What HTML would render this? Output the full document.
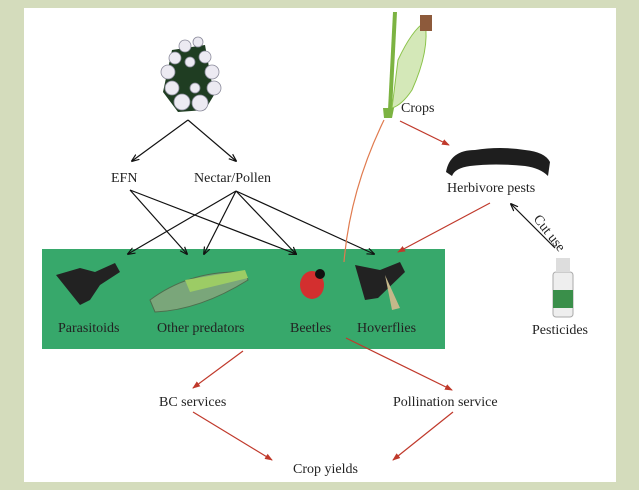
<!DOCTYPE html>
<html><head><meta charset="utf-8"><style>
html,body{margin:0;padding:0;background:#d4dcbc;}
svg{display:block}
text{font-family:"Liberation Serif",serif;font-size:14px;fill:#222}
</style></head><body>
<svg width="639" height="490" viewBox="0 0 639 490" xmlns="http://www.w3.org/2000/svg">
<defs>
<marker id="ab" markerWidth="8" markerHeight="8" refX="7" refY="4" orient="auto" markerUnits="userSpaceOnUse"><path d="M0,1 L8,4 L0,7" fill="none" stroke="#111" stroke-width="1.2"/></marker>
<marker id="ar" markerWidth="8" markerHeight="8" refX="7" refY="4" orient="auto" markerUnits="userSpaceOnUse"><path d="M0,1 L8,4 L0,7 z" fill="#c0392b"/></marker>
</defs>
<rect x="0" y="0" width="639" height="490" fill="#d4dcbc"/>
<rect x="24" y="8" width="592" height="474" fill="#fff"/>
<rect x="42" y="249" width="403" height="100" fill="#37a86b"/>

<!-- flower -->
<g>
<path d="M172,50 L205,45 L214,95 L205,110 L178,112 L163,92 Z" fill="#1f3d22"/>
<g fill="#eceaf2" stroke="#8a8a9a" stroke-width="0.8">
<circle cx="185" cy="46" r="6"/><circle cx="198" cy="42" r="5"/><circle cx="175" cy="58" r="6"/><circle cx="205" cy="57" r="6"/>
<circle cx="168" cy="72" r="7"/><circle cx="212" cy="72" r="7"/><circle cx="172" cy="88" r="7"/><circle cx="214" cy="88" r="7"/>
<circle cx="182" cy="102" r="8"/><circle cx="200" cy="103" r="8"/><circle cx="190" cy="62" r="5"/><circle cx="195" cy="88" r="5"/>
</g></g>
<!-- corn -->
<g>
<path d="M393,12 L397,12 L392,110 L388,110 Z" fill="#7cb342"/>
<path d="M398,60 Q412,30 425,22 Q430,50 412,90 Q402,105 392,108 Z" fill="#d4e8b8" stroke="#8bc34a"/>
<rect x="420" y="15" width="12" height="16" fill="#8d5a3b"/>
<path d="M383,108 L394,108 L392,118 L384,118 Z" fill="#7cb342"/>
</g>
<!-- caterpillar -->
<path d="M446,172 Q450,150 475,150 Q500,146 525,150 Q545,152 550,162 L548,176 Q540,168 525,166 Q495,163 470,166 Q455,168 452,176 Z" fill="#1e1e1e"/>
<!-- bottle -->
<rect x="553" y="272" width="20" height="45" rx="3" fill="#eee" stroke="#aaa"/>
<rect x="553" y="290" width="20" height="18" fill="#3a8f4a"/>
<path d="M556,258 L570,258 L570,272 L556,272 Z" fill="#ddd"/>
<!-- insects -->
<path d="M56,275 L80,268 L95,272 L115,263 L120,272 L100,285 L90,300 L80,305 Z" fill="#222"/>
<path d="M150,300 Q190,270 245,272 L248,280 Q200,310 155,312 Z" fill="#7aa67a" stroke="#4d6e4d"/>
<path d="M185,280 L245,270 L248,278 L190,292 Z" fill="#9ccc65"/>
<ellipse cx="312" cy="285" rx="12" ry="14" fill="#d32f2f"/>
<circle cx="320" cy="274" r="5" fill="#111"/>
<path d="M355,265 L380,270 L400,262 L405,272 L378,298 L365,300 Z" fill="#222"/>
<path d="M385,275 L400,308 L392,310 Z" fill="#c5b88a"/>

<!-- labels -->
<text x="111" y="182">EFN</text>
<text x="194" y="182">Nectar/Pollen</text>
<text x="401" y="112">Crops</text>
<text x="447" y="192">Herbivore pests</text>
<text x="58" y="332" font-size="15">Parasitoids</text>
<text x="157" y="332" font-size="15">Other predators</text>
<text x="290" y="332" font-size="15">Beetles</text>
<text x="357" y="332" font-size="15">Hoverflies</text>
<text x="532" y="334">Pesticides</text>
<text x="159" y="406">BC services</text>
<text x="393" y="406">Pollination service</text>
<text x="293" y="473">Crop yields</text>
<text x="0" y="0" transform="translate(533,219) rotate(52)">Cut use</text>

<!-- black lines -->
<g stroke="#111" stroke-width="1.2" fill="none" marker-end="url(#ab)">
<line x1="188" y1="120" x2="132" y2="161"/>
<line x1="188" y1="120" x2="236" y2="161"/>
<line x1="130" y1="190" x2="187" y2="254"/>
<line x1="130" y1="190" x2="296" y2="254"/>
<line x1="236" y1="191" x2="128" y2="254"/>
<line x1="236" y1="191" x2="204" y2="254"/>
<line x1="236" y1="191" x2="296" y2="254"/>
<line x1="236" y1="191" x2="374" y2="254"/>
<line x1="555" y1="248" x2="511" y2="204"/>
</g>
<!-- red lines -->
<path d="M384,120 Q350,190 344,262" stroke="#e07b4f" stroke-width="1.2" fill="none"/>
<g stroke="#c0392b" stroke-width="1.2" fill="none" marker-end="url(#ar)">
<line x1="400" y1="121" x2="449" y2="145"/>
<line x1="490" y1="203" x2="398" y2="252"/>
<line x1="243" y1="351" x2="193" y2="388"/>
<line x1="346" y1="338" x2="452" y2="390"/>
<line x1="193" y1="412" x2="272" y2="460"/>
<line x1="453" y1="412" x2="393" y2="460"/>
</g>
</svg>
</body></html>
